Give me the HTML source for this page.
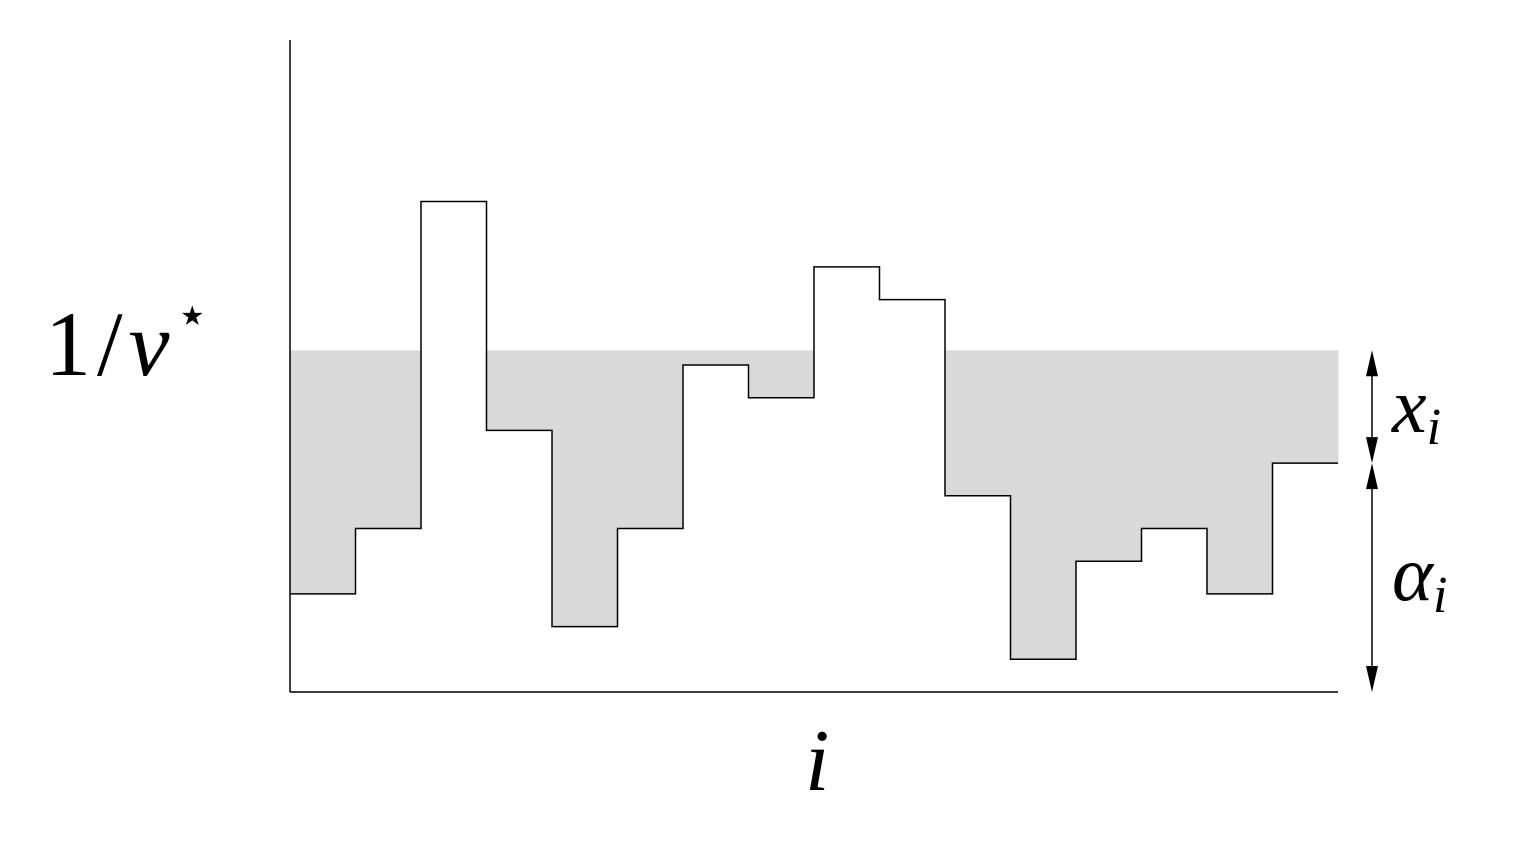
<!DOCTYPE html>
<html><head><meta charset="utf-8"><style>
html,body{margin:0;padding:0;background:#fff;}
svg{display:block;}
text{font-family:"Liberation Serif","DejaVu Serif",serif;fill:#000;}
</style></head><body>
<svg id="chart" width="1540" height="850" viewBox="0 0 1540 850" xmlns="http://www.w3.org/2000/svg">
<g id="fill-layer"></g>
<g id="step-layer"></g>
<line x1="290" y1="40" x2="290" y2="692" stroke="#000" stroke-width="1.5"/>
<line x1="290" y1="692" x2="1338" y2="692" stroke="#000" stroke-width="1.5"/>
<text x="45" y="375" font-size="92" letter-spacing="6">1/<tspan font-style="italic">ν</tspan><tspan font-size="54" dy="-42">⋆</tspan></text>
<text x="805" y="790" font-size="88" font-style="italic">i</text>
<g id="arrow-layer"></g>
<text x="1392" y="432" font-size="78" font-style="italic">x<tspan font-size="52" dy="12">i</tspan></text>
<text x="1392" y="600" font-size="78" font-style="italic">α<tspan font-size="52" dy="12">i</tspan></text>
</svg>
<script>
const bins = [0,1,2,3,4,5,6,7,8,9,10,11,12,13,14,15];
const alphaValues = [3,5,15,8,2,5,10,9,13,12,6,1,4,5,3,7];
const waterLevel = 10.45;
const x0=290, x1=1338, y0=692, unit=32.7;
const bw=(x1-x0)/bins.length;
const xs=i=>x0+i*bw;
const ys=v=>y0-v*unit;
const NS="http://www.w3.org/2000/svg";
const fillG=document.getElementById('fill-layer');
const stepG=document.getElementById('step-layer');
bins.forEach((b,i)=>{
  const a=alphaValues[i];
  if(a<waterLevel){
    const r=document.createElementNS(NS,'rect');
    
    
    r.setAttribute('x',xs(i));r.setAttribute('width',bw+0.5);
    r.setAttribute('y',ys(waterLevel));r.setAttribute('height',ys(a)-ys(waterLevel));
    r.setAttribute('fill','#d9d9d9');
    fillG.appendChild(r);
  }
});
let d='M'+xs(0)+','+ys(alphaValues[0]);
bins.forEach((b,i)=>{
  d+=' L'+xs(i+1)+','+ys(alphaValues[i]);
  if(i+1<bins.length) d+=' L'+xs(i+1)+','+ys(alphaValues[i+1]);
});
const p=document.createElementNS(NS,'path');


p.setAttribute('d',d);p.setAttribute('fill','none');p.setAttribute('stroke','#000');p.setAttribute('stroke-width','1.5');
stepG.appendChild(p);
const ag=document.getElementById('arrow-layer');
const ax=1372;
const last=alphaValues[alphaValues.length-1];
function arrow(ya,yb,name){
  const l=document.createElementNS(NS,'line');
  
  
  l.setAttribute('x1',ax);l.setAttribute('x2',ax);l.setAttribute('y1',ya+10);l.setAttribute('y2',yb-10);
  l.setAttribute('stroke','#000');l.setAttribute('stroke-width','1.5');
  ag.appendChild(l);
  [[ya,1],[yb,-1]].forEach(([y,s])=>{
    const t=document.createElementNS(NS,'polygon');
    
    
    t.setAttribute('points',ax+','+y+' '+(ax-6)+','+(y+s*26)+' '+(ax+6)+','+(y+s*26));
    t.setAttribute('fill','#000');
    ag.appendChild(t);
  });
}
arrow(ys(waterLevel),ys(last),'x-i-arrow');
arrow(ys(last),y0,'alpha-i-arrow');
</script>
</body></html>
